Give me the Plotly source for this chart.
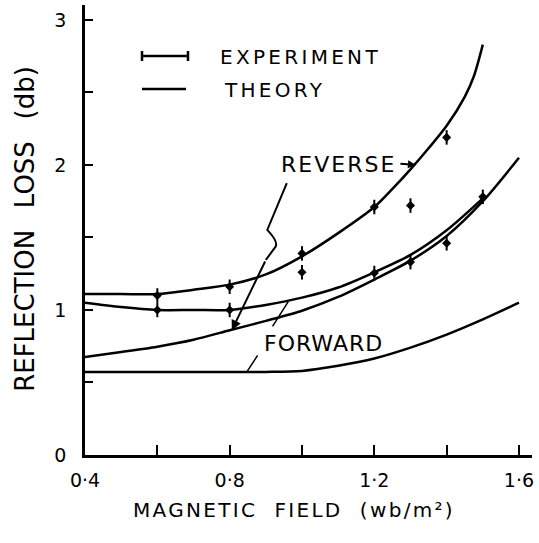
import plotly.graph_objects as go

# ---- data ----
field_rev_theory = [0.4, 0.5, 0.6, 0.7, 0.8, 0.9, 1.0, 1.1, 1.2, 1.25, 1.3, 1.35, 1.4, 1.45, 1.475, 1.5]
loss_rev_theory = [1.11, 1.11, 1.11, 1.14, 1.175, 1.245, 1.37, 1.53, 1.71, 1.835, 1.97, 2.115, 2.27, 2.47, 2.61, 2.83]

field_mid_theory = [0.4, 0.5, 0.6, 0.7, 0.8, 0.9, 1.0, 1.1, 1.2, 1.3, 1.4, 1.5]
loss_mid_theory = [1.05, 1.02, 1.0, 1.0, 1.0, 1.035, 1.085, 1.155, 1.26, 1.38, 1.55, 1.77]

field_fwd_theory = [0.4, 0.5, 0.6, 0.7, 0.8, 0.9, 1.0, 1.1, 1.2, 1.3, 1.4, 1.5, 1.6]
loss_fwd_theory = [0.676, 0.71, 0.747, 0.795, 0.86, 0.925, 0.995, 1.09, 1.21, 1.34, 1.51, 1.75, 2.05]

field_low_theory = [0.4, 0.6, 0.8, 0.9, 1.0, 1.1, 1.2, 1.3, 1.4, 1.5, 1.6]
loss_low_theory = [0.572, 0.572, 0.572, 0.573, 0.58, 0.615, 0.665, 0.74, 0.83, 0.935, 1.05]

field_rev_exp = [0.6, 0.8, 1.0, 1.0, 1.2, 1.3, 1.4]
loss_rev_exp = [1.10, 1.16, 1.39, 1.26, 1.71, 1.72, 2.19]

field_fwd_exp = [0.6, 0.8, 1.2, 1.3, 1.4, 1.5]
loss_fwd_exp = [1.0, 1.0, 1.255, 1.33, 1.46, 1.78]

exp_err = 0.05

x_tickvals = [0.4, 0.6, 0.8, 1.0, 1.2, 1.4, 1.6]
x_ticktext = ["0·4", "", "0·8", "", "1·2", "", "1·6"]
y_tickvals = [0, 0.5, 1, 1.5, 2, 2.5, 3]
y_ticktext = ["0", "", "1", "", "2", "", "3"]

FONT = "DejaVu Sans"


def spaced(t, ls):
    return '<span style="letter-spacing:%spx">%s</span>' % (ls, t)


fig = go.Figure()

for xs, ys in [(field_rev_theory, loss_rev_theory), (field_mid_theory, loss_mid_theory),
               (field_fwd_theory, loss_fwd_theory), (field_low_theory, loss_low_theory)]:
    fig.add_trace(go.Scatter(x=xs, y=ys, mode="lines",
                             line=dict(color="black", width=2.5, shape="spline", smoothing=0.8),
                             showlegend=False, hoverinfo="skip"))

for xs, ys in [(field_rev_exp, loss_rev_exp), (field_fwd_exp, loss_fwd_exp)]:
    fig.add_trace(go.Scatter(x=xs, y=ys, mode="markers",
                             marker=dict(symbol="diamond", size=7, color="black"),
                             error_y=dict(type="constant", value=exp_err, color="black",
                                          thickness=2, width=0),
                             showlegend=False, hoverinfo="skip"))

annotations = []
# legend text
annotations.append(dict(xref="paper", yref="paper", x=0.2975, y=0.8844, xanchor="left", yanchor="middle",
                        text=spaced("EXPERIMENT", 3.3), showarrow=False,
                        font=dict(family=FONT, size=20, color="black")))
annotations.append(dict(xref="paper", yref="paper", x=0.3065, y=0.8111, xanchor="left", yanchor="middle",
                        text=spaced("THEORY", 3.3), showarrow=False,
                        font=dict(family=FONT, size=20, color="black")))
# curve labels
annotations.append(dict(xref="x", yref="y", x=1.265, y=2.0, xanchor="right", yanchor="middle",
                        text=spaced("REVERSE", 2), showarrow=False,
                        font=dict(family=FONT, size=22, color="black")))
annotations.append(dict(xref="x", yref="y", axref="x", ayref="y", x=1.315, y=2.0, ax=1.268, ay=2.01,
                        text="", showarrow=True, arrowhead=2, arrowsize=0.8, arrowwidth=2, arrowcolor="black"))
annotations.append(dict(xref="x", yref="y", axref="x", ayref="y", x=0.806, y=0.86, ax=0.900, ay=1.345,
                        text="", showarrow=True, arrowhead=2, arrowsize=1, arrowwidth=2, arrowcolor="black"))
annotations.append(dict(xref="x", yref="y", x=0.889, y=0.766, xanchor="left", yanchor="middle",
                        text=spaced("FORWARD", 1), showarrow=False,
                        font=dict(family=FONT, size=22, color="black")))
annotations.append(dict(xref="x", yref="y", axref="x", ayref="y", x=0.962, y=1.058, ax=0.916, ay=0.876,
                        text="", showarrow=True, arrowhead=0, arrowwidth=1.5, arrowcolor="black"))
annotations.append(dict(xref="x", yref="y", axref="x", ayref="y", x=0.848, y=0.575, ax=0.880, ay=0.697,
                        text="", showarrow=True, arrowhead=0, arrowwidth=1.5, arrowcolor="black"))
# axis titles
annotations.append(dict(xref="paper", yref="paper", x=0.4676, y=-0.1222, xanchor="center", yanchor="middle",
                        text=spaced("MAGNETIC  FIELD  (wb/m²)", 2.3), showarrow=False,
                        font=dict(family=FONT, size=20, color="black")))
annotations.append(dict(xref="paper", yref="paper", x=-0.136, y=0.503, xanchor="center", yanchor="middle",
                        text="REFLECTION\u00a0\u2009 LOSS\u00a0\u2009 (db)", textangle=-90, showarrow=False,
                        font=dict(family=FONT, size=26, color="black")))

shapes = [
    # legend: experiment sample
    dict(type="line", xref="paper", yref="paper", x0=0.1275, x1=0.2304, y0=0.8867, y1=0.8867,
         line=dict(color="black", width=2.5)),
    dict(type="line", xref="paper", yref="paper", x0=0.1275, x1=0.1275, y0=0.8756, y1=0.8978,
         line=dict(color="black", width=2.5)),
    dict(type="line", xref="paper", yref="paper", x0=0.2304, x1=0.2304, y0=0.8756, y1=0.8978,
         line=dict(color="black", width=2.5)),
    # legend: theory sample
    dict(type="line", xref="paper", yref="paper", x0=0.1275, x1=0.226, y0=0.8133, y1=0.8133,
         line=dict(color="black", width=2.5)),
    # leader with kink from REVERSE
    dict(type="path", xref="x", yref="y",
         path="M 0.958,1.874 L 0.904,1.552 Q 0.935,1.47 0.927,1.437 L 0.900,1.345",
         line=dict(color="black", width=2)),
]

fig.update_layout(
    width=539, height=543,
    margin=dict(l=85, r=7, t=5, b=88),
    paper_bgcolor="white", plot_bgcolor="white",
    showlegend=False,
    font=dict(family=FONT, size=20, color="black"),
    annotations=annotations,
    shapes=shapes,
    xaxis=dict(range=[0.4, 1.636], showgrid=False, zeroline=False, showline=True, automargin=False,
               linecolor="black", linewidth=2.5, ticks="inside", ticklen=10, tickwidth=2,
               tickcolor="black", tickvals=x_tickvals, ticktext=x_ticktext,
               ticklabelstandoff=6, tickfont=dict(family=FONT, size=19, color="black")),
    yaxis=dict(range=[0, 3.103], showgrid=False, zeroline=False, showline=True, automargin=False,
               linecolor="black", linewidth=2.5, ticks="inside", ticklen=8, tickwidth=2,
               tickcolor="black", tickvals=y_tickvals, ticktext=y_ticktext,
               ticklabelstandoff=12, tickfont=dict(family=FONT, size=19, color="black")),
)

fig.write_html("out.html", config={"displayModeBar": False},
               post_script="document.body.style.margin='0px';")
